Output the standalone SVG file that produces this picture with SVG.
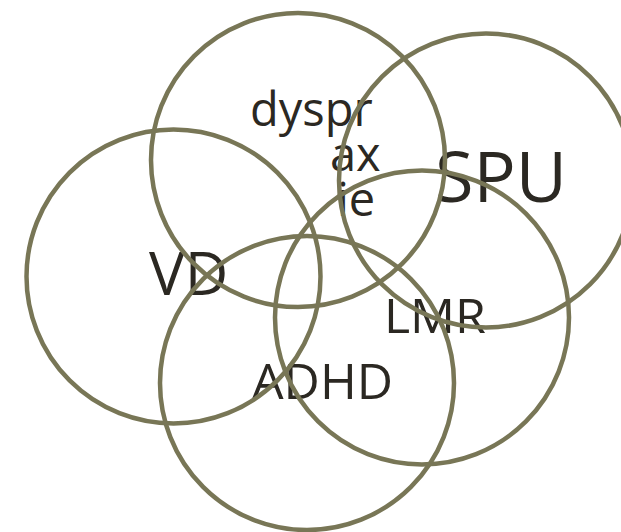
<svg xmlns="http://www.w3.org/2000/svg" width="621" height="532" viewBox="0 0 621 532">
  <style>
    .label { font-family: "Open Sans", "Liberation Sans", sans-serif; fill: #2b2822; }
    .ring { fill: none; stroke: #787656; stroke-width: 4.5; }
  </style>
  <rect width="621" height="532" fill="#ffffff"/>

  <!-- labels sit beneath the rings -->
  <g id="labels">
    <text class="label" font-size="47"><tspan x="250" y="126">dyspr</tspan><tspan x="330" y="171">ax</tspan><tspan x="337" y="216">ie</tspan></text>
    <text class="label" font-size="69" x="435" y="202" textLength="132" lengthAdjust="spacingAndGlyphs">SPU</text>
    <text class="label" font-size="60" x="149" y="295">VD</text>
    <text class="label" font-size="48" x="384" y="333" textLength="102" lengthAdjust="spacingAndGlyphs">LMR</text>
    <text class="label" font-size="50" x="252" y="399">ADHD</text>
  </g>

  <!-- overlapping sets -->
  <g id="set-dyspraxie"><circle class="ring" cx="298" cy="160" r="147"/></g>
  <g id="set-spu"><circle class="ring" cx="486" cy="180.5" r="147"/></g>
  <g id="set-vd"><circle class="ring" cx="173.5" cy="276.5" r="147"/></g>
  <g id="set-adhd"><circle class="ring" cx="307" cy="383" r="147"/></g>
  <g id="set-lmr"><circle class="ring" cx="422" cy="317.5" r="147"/></g>
</svg>
